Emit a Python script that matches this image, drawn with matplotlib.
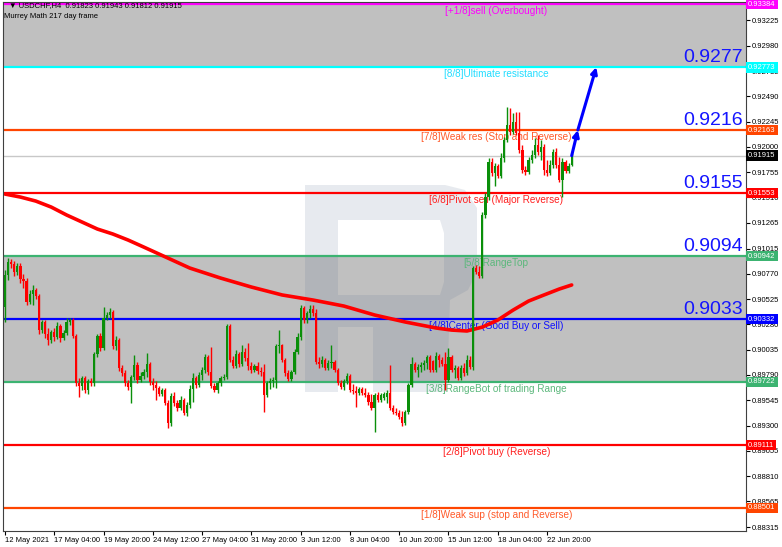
import matplotlib
matplotlib.use("Agg")
import matplotlib.pyplot as plt
import matplotlib.transforms as mtransforms
from matplotlib.path import Path
from matplotlib.patches import PathPatch
import numpy as np

plt.rcParams["font.family"] = ["Liberation Sans", "DejaVu Sans"]

# H4 candles, USDCHF
opens = [
    0.90448, 0.90758, 0.90884, 0.90865, 0.90787, 0.90845, 0.90720, 0.90700, 0.90497, 0.90574,
    0.90613, 0.90555, 0.90225, 0.90303, 0.90187, 0.90128, 0.90206, 0.90157, 0.90264, 0.90148,
    0.90196, 0.90303, 0.90322, 0.90167, 0.89712, 0.89683, 0.89760, 0.89644, 0.89731, 0.89712,
    0.89993, 0.90167, 0.90051, 0.90342, 0.90371, 0.90400, 0.90070, 0.90128, 0.89857, 0.89809,
    0.89712, 0.89673, 0.89770, 0.89886, 0.89741, 0.89780, 0.89818, 0.89896, 0.89722, 0.89692,
    0.89663, 0.89605, 0.89644, 0.89518, 0.89324, 0.89586, 0.89518, 0.89469, 0.89547, 0.89421,
    0.89499, 0.89654, 0.89760, 0.89692, 0.89789, 0.89838, 0.89964, 0.89818, 0.89683, 0.89644,
    0.89712, 0.89760, 0.89770, 0.90264, 0.89935, 0.89876, 0.89993, 0.89896, 0.90012, 0.89954,
    0.89876, 0.89838, 0.89876, 0.89828, 0.89818, 0.89596, 0.89712, 0.89731, 0.89741, 0.90070,
    0.90080, 0.89935, 0.89809, 0.89750, 0.89818, 0.90012, 0.90157, 0.90438, 0.90322, 0.90390,
    0.90429, 0.90390, 0.89915, 0.89896, 0.89935, 0.89857, 0.89906, 0.89915, 0.89838, 0.89712,
    0.89673, 0.89731, 0.89780, 0.89644, 0.89634, 0.89615, 0.89654, 0.89615, 0.89596, 0.89528,
    0.89469, 0.89596, 0.89547, 0.89566, 0.89576, 0.89615, 0.89469, 0.89431, 0.89421, 0.89382,
    0.89324, 0.89431, 0.89692, 0.89896, 0.89838, 0.89867, 0.89886, 0.89906, 0.89964, 0.89925,
    0.89838, 0.89973, 0.89935, 0.89896, 0.89741, 0.89964, 0.89838, 0.89857, 0.89760, 0.89857,
    0.89809, 0.89935, 0.89867, 0.90826, 0.90787, 0.90749, 0.91340, 0.91514, 0.91853, 0.91747,
    0.91815, 0.91718, 0.91892, 0.92066, 0.92212, 0.92144, 0.92241, 0.92134, 0.91970, 0.91776,
    0.91757, 0.91873, 0.91921, 0.92018, 0.91950, 0.91999, 0.91776, 0.91747, 0.91824, 0.91950,
    0.91824, 0.91679, 0.91853, 0.91766, 0.91823,
]
highs = [
    0.90807, 0.90923, 0.90913, 0.90894, 0.90875, 0.90875, 0.90768, 0.90729, 0.90613, 0.90661,
    0.90632, 0.90574, 0.90322, 0.90322, 0.90245, 0.90225, 0.90245, 0.90303, 0.90284, 0.90225,
    0.90342, 0.90342, 0.90342, 0.90187, 0.89760, 0.89780, 0.89780, 0.89750, 0.89760, 0.90012,
    0.90187, 0.90196, 0.90448, 0.90400, 0.90438, 0.90419, 0.90167, 0.90148, 0.89886, 0.89838,
    0.89741, 0.89789, 0.89983, 0.89915, 0.89818, 0.89847, 0.90002, 0.89915, 0.89760, 0.89731,
    0.89683, 0.89663, 0.89663, 0.89547, 0.89615, 0.89625, 0.89547, 0.89586, 0.89566, 0.89528,
    0.89692, 0.89809, 0.89780, 0.89818, 0.89867, 0.89993, 0.89983, 0.90060, 0.89712, 0.89731,
    0.89780, 0.89799, 0.90284, 0.90284, 0.89973, 0.90031, 0.90012, 0.90080, 0.90051, 0.90099,
    0.89915, 0.89896, 0.89915, 0.89867, 0.89896, 0.89731, 0.89760, 0.89770, 0.90090, 0.90225,
    0.90090, 0.89954, 0.89838, 0.89838, 0.90041, 0.90196, 0.90468, 0.90458, 0.90409, 0.90468,
    0.90468, 0.90429, 0.89964, 0.89973, 0.89954, 0.89935, 0.90080, 0.89935, 0.89857, 0.89741,
    0.89750, 0.89809, 0.89799, 0.89702, 0.89683, 0.89673, 0.89673, 0.89663, 0.89625, 0.89605,
    0.89615, 0.89625, 0.89615, 0.89625, 0.89644, 0.89886, 0.89499, 0.89469, 0.89450, 0.89440,
    0.89450, 0.89712, 0.89964, 0.89915, 0.89896, 0.89915, 0.89935, 0.89983, 0.89983, 0.89935,
    0.90012, 0.89993, 0.89964, 0.90012, 0.90051, 0.89983, 0.89886, 0.89876, 0.89886, 0.89906,
    0.89983, 0.89973, 0.90846, 0.90855, 0.90846, 0.91369, 0.91553, 0.91892, 0.91892, 0.91844,
    0.91834, 0.91940, 0.92095, 0.92386, 0.92376, 0.92328, 0.92338, 0.92338, 0.92018, 0.91815,
    0.91902, 0.91970, 0.92086, 0.92115, 0.92066, 0.92028, 0.91873, 0.91873, 0.91979, 0.91989,
    0.91902, 0.91892, 0.91873, 0.91844, 0.91943,
]
lows = [
    0.90303, 0.90710, 0.90826, 0.90749, 0.90758, 0.90681, 0.90632, 0.90468, 0.90477, 0.90468,
    0.90526, 0.90187, 0.90196, 0.90148, 0.90080, 0.90099, 0.90119, 0.90138, 0.90109, 0.90128,
    0.90177, 0.90274, 0.90148, 0.89683, 0.89576, 0.89644, 0.89615, 0.89605, 0.89683, 0.89683,
    0.89964, 0.90022, 0.90031, 0.90322, 0.90342, 0.90041, 0.90031, 0.89828, 0.89780, 0.89683,
    0.89644, 0.89518, 0.89741, 0.89712, 0.89722, 0.89750, 0.89770, 0.89692, 0.89644, 0.89547,
    0.89586, 0.89586, 0.89499, 0.89276, 0.89295, 0.89489, 0.89440, 0.89450, 0.89402, 0.89392,
    0.89469, 0.89528, 0.89663, 0.89673, 0.89741, 0.89809, 0.89789, 0.89663, 0.89625, 0.89615,
    0.89683, 0.89741, 0.89750, 0.89915, 0.89857, 0.89857, 0.89867, 0.89876, 0.89925, 0.89838,
    0.89809, 0.89818, 0.89799, 0.89780, 0.89431, 0.89576, 0.89654, 0.89673, 0.89663, 0.90002,
    0.89915, 0.89780, 0.89731, 0.89731, 0.89799, 0.89993, 0.90128, 0.90293, 0.90293, 0.90342,
    0.90361, 0.89896, 0.89857, 0.89867, 0.89838, 0.89838, 0.89857, 0.89818, 0.89692, 0.89654,
    0.89644, 0.89702, 0.89625, 0.89605, 0.89479, 0.89596, 0.89596, 0.89576, 0.89499, 0.89450,
    0.89237, 0.89528, 0.89528, 0.89547, 0.89518, 0.89450, 0.89411, 0.89402, 0.89363, 0.89295,
    0.89305, 0.89411, 0.89673, 0.89818, 0.89770, 0.89818, 0.89838, 0.89847, 0.89818, 0.89818,
    0.89818, 0.89867, 0.89876, 0.89644, 0.89722, 0.89818, 0.89760, 0.89741, 0.89741, 0.89780,
    0.89789, 0.89847, 0.89838, 0.90768, 0.90729, 0.90729, 0.91311, 0.91485, 0.91718, 0.91621,
    0.91698, 0.91698, 0.91853, 0.92047, 0.92115, 0.92124, 0.92115, 0.91941, 0.91747, 0.91727,
    0.91737, 0.91844, 0.91892, 0.91921, 0.91873, 0.91727, 0.91718, 0.91727, 0.91795, 0.91795,
    0.91659, 0.91514, 0.91747, 0.91747, 0.91812,
]
closes = [
    0.90758, 0.90884, 0.90865, 0.90787, 0.90845, 0.90720, 0.90700, 0.90497, 0.90574, 0.90613,
    0.90555, 0.90225, 0.90303, 0.90187, 0.90128, 0.90206, 0.90157, 0.90264, 0.90148, 0.90196,
    0.90303, 0.90322, 0.90167, 0.89712, 0.89683, 0.89760, 0.89644, 0.89731, 0.89712, 0.89993,
    0.90167, 0.90051, 0.90342, 0.90371, 0.90400, 0.90070, 0.90128, 0.89857, 0.89809, 0.89712,
    0.89673, 0.89770, 0.89886, 0.89741, 0.89780, 0.89818, 0.89896, 0.89722, 0.89692, 0.89663,
    0.89605, 0.89644, 0.89518, 0.89324, 0.89586, 0.89518, 0.89469, 0.89547, 0.89421, 0.89499,
    0.89654, 0.89760, 0.89692, 0.89789, 0.89838, 0.89964, 0.89818, 0.89683, 0.89644, 0.89712,
    0.89760, 0.89770, 0.90264, 0.89935, 0.89876, 0.89993, 0.89896, 0.90012, 0.89954, 0.89876,
    0.89838, 0.89876, 0.89828, 0.89818, 0.89596, 0.89712, 0.89731, 0.89741, 0.90070, 0.90080,
    0.89935, 0.89809, 0.89750, 0.89818, 0.90012, 0.90157, 0.90438, 0.90322, 0.90390, 0.90429,
    0.90390, 0.89915, 0.89896, 0.89935, 0.89857, 0.89906, 0.89915, 0.89838, 0.89712, 0.89673,
    0.89731, 0.89780, 0.89644, 0.89634, 0.89615, 0.89654, 0.89615, 0.89596, 0.89528, 0.89469,
    0.89596, 0.89547, 0.89596, 0.89605, 0.89615, 0.89469, 0.89431, 0.89421, 0.89382, 0.89324,
    0.89431, 0.89692, 0.89896, 0.89838, 0.89867, 0.89886, 0.89906, 0.89964, 0.89838, 0.89838,
    0.89973, 0.89935, 0.89896, 0.89741, 0.89964, 0.89838, 0.89857, 0.89760, 0.89857, 0.89809,
    0.89935, 0.89867, 0.90826, 0.90787, 0.90749, 0.91340, 0.91514, 0.91853, 0.91747, 0.91815,
    0.91718, 0.91892, 0.92066, 0.92212, 0.92144, 0.92241, 0.92134, 0.91970, 0.91776, 0.91757,
    0.91873, 0.91921, 0.92018, 0.91950, 0.91999, 0.91776, 0.91747, 0.91824, 0.91950, 0.91824,
    0.91679, 0.91853, 0.91766, 0.91815, 0.91915,
]

# moving average (thick red line), sampled at bar indices
ma_idx = [0, 5, 10, 15, 20, 25, 30, 35, 40, 45, 50, 55, 60, 70, 80, 90, 100, 110, 120,
          130, 140, 145, 150, 155, 160, 165, 170, 175, 180, 184]
ma_val = [0.91543, 0.91514, 0.91475, 0.91417, 0.91340, 0.91272, 0.91204, 0.91156,
          0.91097, 0.91030, 0.90962, 0.90894, 0.90826, 0.90729, 0.90642, 0.90565,
          0.90516, 0.90458, 0.90371, 0.90303, 0.90245, 0.90225, 0.90216, 0.90254,
          0.90322, 0.90419, 0.90506, 0.90565, 0.90623, 0.90662]

# Murrey Math levels
level_names = ["[+1/8]sell (Overbought)", "[8/8]Ultimate resistance",
               "[7/8]Weak res (Stop and Reverse)", "[6/8]Pivot sell (Major Reverse)",
               "[5/8]RangeTop", "[4/8]Center (Good Buy or Sell)",
               "[3/8]RangeBot of trading Range", "[2/8]Pivot buy (Reverse)",
               "[1/8]Weak sup (stop and Reverse)"]
level_values = [0.93384, 0.92773, 0.92163, 0.91553, 0.90942, 0.90332, 0.89722, 0.89111, 0.88501]
level_colors = ["#ff00ff", "#00ffff", "#ff4500", "#ff0000", "#3cb371",
                "#0000ff", "#3cb371", "#ff0000", "#ff4500"]
text_colors = ["#ff00ff", "#22ddff", "#ff5a2a", "#ff2020", "#5cb87c",
               "#1010ff", "#5cb87c", "#ff2020", "#ff5a2a"]

big_labels = ["0.9277", "0.9216", "0.9155", "0.9094", "0.9033"]
big_values = [0.92773, 0.92163, 0.91553, 0.90942, 0.90332]

last_price = 0.91915

ytick_labels = ["0.88315", "0.88565", "0.88810", "0.89055", "0.89300", "0.89545", "0.89790",
                "0.90035", "0.90280", "0.90525", "0.90770", "0.91015", "0.91265", "0.91510",
                "0.91755", "0.92000", "0.92245", "0.92490", "0.92735", "0.92980", "0.93225"]

date_pos = [0, 16, 32, 48, 64, 80, 96, 112, 128, 144, 160, 176]
date_labels = ["12 May 2021", "17 May 04:00", "19 May 20:00", "24 May 12:00",
               "27 May 04:00", "31 May 20:00", "3 Jun 12:00", "8 Jun 04:00",
               "10 Jun 20:00", "15 Jun 12:00", "18 Jun 04:00", "22 Jun 20:00"]

# forecast arrow path
arrow_x = [184, 186, 192]
arrow_y = [0.91915, 0.92163, 0.92773]

W, H = 782, 547
fig = plt.figure(figsize=(W / 100, H / 100), dpi=100)
ax = fig.add_axes([3 / W, 1 - 531 / H, 743 / W, 529 / H])
ax.set_xlim(-0.65, 240.6)
ax.set_ylim(0.88278, 0.93404)

band_gray = "#c0c0c0"
ax.axhspan(level_values[1], 0.93404, color=band_gray, zorder=0, lw=0)
ax.axhspan(level_values[6], level_values[4], color=band_gray, zorder=0, lw=0)

# watermark logo (pixel coordinates of the image)
pix = mtransforms.Affine2D().scale(1 / W, -1 / H).translate(0, 1) + fig.transFigure
outer = [(305, 185), (445, 185), (465, 190), (477, 208), (477, 272), (468, 290), (450, 300),
         (447, 392), (373, 392), (373, 327), (338, 327), (338, 392), (305, 392), (305, 185)]
inner = [(338, 220), (338, 295), (440, 295), (444, 282), (444, 233), (440, 220), (338, 220)]
verts = outer + inner
codes = ([Path.MOVETO] + [Path.LINETO] * (len(outer) - 2) + [Path.CLOSEPOLY] +
         [Path.MOVETO] + [Path.LINETO] * (len(inner) - 2) + [Path.CLOSEPOLY])
logo = PathPatch(Path(verts, codes), transform=pix, fc="#5a6f8f", ec="none",
                 alpha=0.14, zorder=0.5)
ax.add_artist(logo)

ax.axhline(last_price, color="#c8c8c8", lw=1, zorder=1)
for name, v, c, tc in zip(level_names, level_values, level_colors, text_colors):
    ax.axhline(v, color=c, lw=1.6, zorder=1.5)
    ax.annotate(name, xy=(159.5, v), xytext=(0, -1.5), textcoords="offset points",
                ha="center", va="top", fontsize=7.2, color=tc, zorder=1.6)

for lab, v in zip(big_labels, big_values):
    ax.annotate(lab, xy=(0.996, v), xycoords=("axes fraction", "data"),
                xytext=(0, 1), textcoords="offset points", ha="right", va="bottom",
                fontsize=14, color="#1515ff", zorder=1.6)

ax.plot(ma_idx, ma_val, color="#ff0000", lw=2.6, solid_capstyle="round",
        solid_joinstyle="round", zorder=2)

o = np.array(opens)
h = np.array(highs)
l = np.array(lows)
c = np.array(closes)
idx = np.arange(len(o))
cols = np.where(c >= o, "#0a8f0a", "#ff0000")
ax.vlines(idx, l, h, colors=cols, lw=1.0, zorder=3)
ax.bar(idx, np.maximum(np.abs(c - o), 0.00004), bottom=np.minimum(o, c), width=0.72,
       color=cols, lw=0, zorder=3.5)

for k in range(len(arrow_x) - 1):
    ax.annotate("", xy=(arrow_x[k + 1], arrow_y[k + 1]), xytext=(arrow_x[k], arrow_y[k]),
                arrowprops=dict(arrowstyle="-|>", color="#0000ff", lw=2.2,
                                mutation_scale=9, shrinkA=0, shrinkB=0), zorder=5)

# axes / ticks
ax.yaxis.tick_right()
ax.set_yticks([float(s) for s in ytick_labels])
ax.set_yticklabels(ytick_labels)
ax.set_xticks(date_pos)
ax.set_xticklabels(date_labels, ha="left")
ax.tick_params(axis="both", labelsize=5.5, length=3, width=0.8, pad=1.5, colors="#000000")
for s in ax.spines.values():
    s.set_color("#404040")
    s.set_linewidth(0.8)

blend = mtransforms.blended_transform_factory(ax.transAxes, ax.transData)
box_vals = level_values[:3] + [last_price] + level_values[3:]
box_cols = level_colors[:3] + ["#000000"] + level_colors[3:]
for v, bc in zip(box_vals, box_cols):
    ax.text(1.003, v, f"{v:.5f}", transform=blend, ha="left", va="center", fontsize=5.5,
            color="white", clip_on=False, zorder=10,
            bbox=dict(boxstyle="square,pad=0.25", fc=bc, ec="none"))

fig.text(9 / W, 1 - 6 / H, "\u25bc USDCHF,H4  0.91823 0.91943 0.91812 0.91915",
         fontsize=5.5, va="center", ha="left", color="#000000", zorder=20)
fig.text(4 / W, 1 - 17 / H, "Murrey Math 217 day frame", fontsize=5.5, va="center",
         ha="left", color="#000000", zorder=20)

fig.savefig("out.png", dpi=100)
